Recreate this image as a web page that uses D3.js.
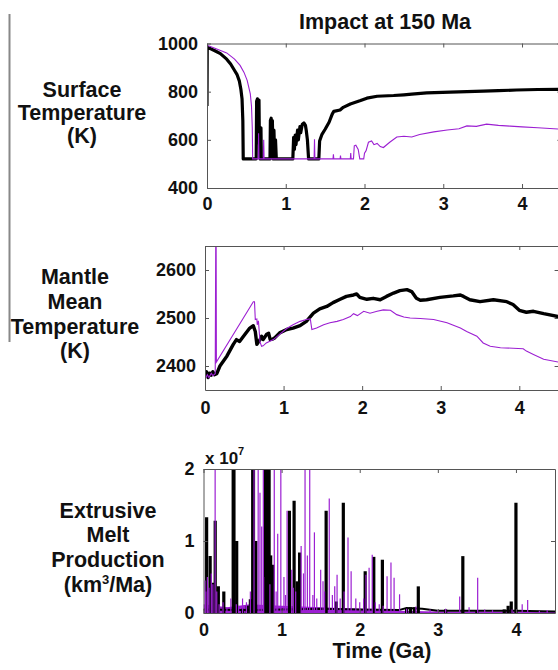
<!DOCTYPE html>
<html>
<head>
<meta charset="utf-8">
<script src="https://cdn.jsdelivr.net/npm/d3@7"></script>
<style>
  body { margin: 0; background: #fff; }
  svg { display: block; }
  text { font-family: "Liberation Sans", Arial, sans-serif; font-weight: bold; fill: #111; }
</style>
</head>
<body>
<div id="vis"></div>
<script>
// ---- data (time in Ga) ----
const xTicks = [0, 1, 2, 3, 4];
const surfTicks = [400, 600, 800, 1000];
const mantleTicks = [2400, 2500, 2600];
const meltTicks = [0, 1, 2];

// surface temperature (K)
const surfBlack = [[0,740],[0.003,985],[0.1,970],[0.17,958],[0.25,935],[0.3,915],[0.35,888],[0.38,872],[0.41,845],[0.43,810],[0.445,770],[0.455,680],[0.46,521],
  [0.625,521],[0.63,760],[0.64,770],[0.65,700],[0.66,765],[0.665,600],[0.675,521],[0.685,650],[0.69,521],
  [0.80,521],[0.805,680],[0.815,690],[0.82,600],[0.83,680],[0.84,521],[0.85,640],[0.86,521],[0.87,600],[0.88,521],
  [1.09,521],[1.10,610],[1.11,560],[1.12,620],[1.13,580],[1.15,640],[1.16,600],[1.18,655],[1.19,630],[1.21,665],[1.23,670],[1.25,660],[1.26,640],[1.275,600],[1.29,521],
  [1.42,521],[1.43,595],[1.46,623],[1.5,644],[1.55,673],[1.59,707],[1.61,718],[1.69,724],[1.73,735],[1.82,749],[1.95,763],[2.03,773],[2.16,781],[2.37,784],[2.5,787],[2.6,790],[2.79,795],[3.09,798],[3.3,800],[3.51,802],[3.7,804],[3.93,807],[4.2,809],[4.5,810]];
const surfPurple = [[0,993],[0.1,980],[0.25,961],[0.35,935],[0.42,909],[0.47,880],[0.51,847],[0.55,791],[0.565,740],[0.575,650],[0.58,521],
  [0.65,521],[0.655,627],[0.66,521],[0.715,521],[0.72,600],[0.725,521],[1.36,521],[1.365,602],[1.37,521],
  [1.6,521],[1.605,540],[1.61,521],[1.69,521],[1.695,535],[1.70,521],[1.82,521],[1.825,545],[1.83,521],
  [1.86,521],[1.87,575],[1.89,578],[1.92,560],[1.94,521],[1.99,521],[2.0,545],[2.02,555],[2.05,590],[2.09,595],[2.12,580],[2.16,585],[2.2,572],[2.24,568],[2.32,590],[2.41,612],[2.5,615],[2.6,612],[2.7,622],[2.88,633],[3.05,641],[3.2,646],[3.3,658],[3.42,656],[3.55,665],[3.7,660],[3.85,657],[4.0,654],[4.2,650],[4.5,644]];

// mantle mean temperature (K)
const mantleBlack = [[0,2379],[0.02,2388],[0.04,2376],[0.06,2385],[0.08,2381],[0.1,2388],[0.12,2382],[0.15,2384],[0.19,2400],[0.28,2421],[0.36,2445],[0.40,2455],[0.44,2451],[0.49,2462],[0.57,2479],[0.615,2484],[0.64,2472],[0.66,2445],[0.70,2455],[0.72,2462],[0.74,2455],[0.785,2466],[0.81,2468],[0.83,2455],[0.86,2456],[0.89,2459],[0.95,2469],[1.04,2476],[1.12,2479],[1.21,2484],[1.29,2493],[1.38,2510],[1.46,2519],[1.55,2524],[1.63,2532],[1.72,2539],[1.80,2545],[1.89,2548],[1.93,2550],[1.97,2543],[2.06,2539],[2.14,2541],[2.23,2538],[2.31,2545],[2.4,2552],[2.48,2557],[2.57,2559],[2.63,2555],[2.69,2541],[2.74,2537],[2.82,2538],[2.99,2543],[3.16,2546],[3.25,2548],[3.29,2545],[3.37,2538],[3.5,2534],[3.67,2538],[3.84,2534],[3.92,2528],[4.0,2516],[4.09,2512],[4.18,2514],[4.31,2509],[4.5,2503]];
const mantlePurple = [[0,2372],[0.03,2382],[0.05,2376],[0.08,2385],[0.1,2380],[0.13,2384],[0.14,2800],[0.145,2408],[0.615,2534],[0.63,2534],[0.64,2497],[0.66,2498],[0.665,2486],[0.68,2494],[0.70,2450],[0.72,2441],[0.74,2442],[0.78,2448],[0.87,2455],[0.95,2466],[1.04,2478],[1.12,2486],[1.21,2493],[1.29,2497],[1.34,2498],[1.36,2476],[1.42,2479],[1.51,2486],[1.59,2490],[1.68,2493],[1.76,2497],[1.85,2503],[1.89,2509],[1.94,2505],[2.02,2514],[2.10,2510],[2.19,2514],[2.27,2517],[2.36,2516],[2.44,2507],[2.53,2502],[2.61,2500],[2.74,2499],[2.91,2497],[3.08,2490],[3.25,2479],[3.33,2472],[3.46,2462],[3.54,2448],[3.63,2441],[3.76,2438],[3.92,2437],[4.05,2436],[4.09,2431],[4.18,2424],[4.31,2414],[4.5,2408]];

// extrusive melt production (x 1e7 km3/Ma): spikes [t, value] and baselines
const meltBlackSpikes = [[0.04,1.33],[0.085,0.79],[0.12,0.42],[0.15,1.28],[0.19,0.37],[0.26,0.30],[0.38,2],[0.39,2],[0.425,1.0],[0.5,0.06],[0.56,0.1],[0.6,0.19],[0.63,2],[0.64,2],[0.67,1.0],
  [0.79,2],[0.80,2],[0.81,2],[0.82,2],[0.83,2],[0.84,2],[0.86,0.8],[0.89,0.67],[1.1,1.42],[1.16,1.56],[1.2,0.44],[1.23,0.84],[1.57,1.42],[1.70,0.16],[1.79,1.53],
  [2.07,0.58],[2.18,0.78],[2.29,0.74],[2.6,0.07],[2.65,0.08],[2.7,0.08],[2.75,0.37],[3.1,0.05],[3.32,0.79],[3.5,0.04],[3.85,0.05],[3.9,0.1],[3.94,0.16],[4.0,1.53]];
const meltPurpleSpikes = [[0.02,0.45],[0.03,0.3],[0.05,0.5],[0.07,0.35],[0.1,0.55],[0.12,0.4],[0.149,2],[0.17,0.3],[0.2,0.12],[0.25,0.15],[0.3,0.08],[0.35,0.2],[0.42,0.12],[0.45,0.1],[0.5,0.2],[0.55,0.15],[0.6,0.3],
  [0.647,2],[0.70,2],[0.723,1.67],[0.745,1.2],[0.766,2],[0.77,0.5],[0.85,0.4],[0.906,2],[0.93,0.3],[0.95,1.1],[0.99,2],[1.03,0.5],[1.05,0.25],[1.07,1.42],[1.13,0.6],[1.15,0.35],[1.18,0.3],
  [1.25,0.93],[1.28,0.55],[1.30,2],[1.33,0.8],[1.36,2],[1.4,0.25],[1.42,1.12],[1.45,0.2],[1.5,0.6],[1.53,0.44],[1.55,0.3],[1.61,1.59],[1.65,0.25],[1.68,0.37],[1.71,0.53],[1.75,0.2],[1.8,0.3],
  [1.85,1.05],[1.89,0.58],[1.95,0.2],[2.0,0.15],[2.05,0.2],[2.08,0.53],[2.12,0.63],[2.16,0.81],[2.2,0.15],[2.25,0.12],[2.3,0.1],[2.35,0.51],[2.40,0.70],[2.44,0.49],[2.51,0.26],
  [2.6,0.06],[2.72,0.09],[2.9,0.05],[3.0,0.04],[3.1,0.06],[3.28,0.23],[3.4,0.08],[3.51,0.49],[3.6,0.05],[3.7,0.04],[3.95,0.05],[4.08,0.12],[4.15,0.18],[4.3,0.03],[4.4,0.04]];
const meltBlackBase = [[0,0.05],[0.5,0.04],[1,0.05],[1.5,0.06],[2,0.05],[2.5,0.04],[2.6,0.07],[2.8,0.06],[3,0.03],[3.5,0.03],[4,0.03],[4.5,0.02]];
const meltPurpleBase = [[0,0.12],[0.3,0.08],[0.6,0.12],[1,0.1],[1.5,0.08],[2,0.06],[2.5,0.03],[3,0.02],[4.5,0.02]];

// ---- layout ----
const WIDTH = 558, HEIGHT = 670;
const PURPLE = "#9c1fd2";
const FRAME_COLOR = "#555";

const svg = d3.select("#vis").append("svg")
  .attr("width", WIDTH).attr("height", HEIGHT)
  .style("background", "#fff");

svg.append("line")
  .attr("x1", 9.5).attr("x2", 9.5).attr("y1", 14).attr("y2", 342)
  .attr("stroke", "#888").attr("stroke-width", 2);

function makePanel(id, box, yDomain, yTicks, yFmt) {
  const x = d3.scaleLinear().domain([0, 4.5]).range([box.left, box.right]);
  const y = d3.scaleLinear().domain(yDomain).range([box.bottom, box.top]);

  svg.append("clipPath").attr("id", id)
    .append("rect")
    .attr("x", box.left).attr("y", box.top)
    .attr("width", box.right - box.left).attr("height", box.bottom - box.top);

  const plot = svg.append("g").attr("clip-path", `url(#${id})`);

  // axes with inward ticks on all sides
  const bottom = svg.append("g")
    .attr("transform", `translate(0,${box.bottom})`)
    .call(d3.axisBottom(x).tickValues(xTicks).tickSizeInner(-4).tickSizeOuter(0).tickPadding(box.xPad).tickFormat(d3.format("d")));
  const left = svg.append("g")
    .attr("transform", `translate(${box.left},0)`)
    .call(d3.axisLeft(y).tickValues(yTicks).tickSizeInner(-4).tickSizeOuter(0).tickPadding(9).tickFormat(yFmt));
  svg.append("g")
    .attr("transform", `translate(0,${box.top})`)
    .call(d3.axisTop(x).tickValues(xTicks).tickSizeInner(-4).tickSizeOuter(0).tickFormat(""));
  svg.append("g")
    .attr("transform", `translate(${box.right},0)`)
    .call(d3.axisRight(y).tickValues(yTicks).tickSizeInner(-4).tickSizeOuter(0).tickFormat(""));

  svg.selectAll(".domain").attr("stroke", FRAME_COLOR);
  svg.selectAll(".tick line").attr("stroke", FRAME_COLOR);
  [bottom, left].forEach(a => a.attr("font-size", 18).attr("font-family", null));
  svg.selectAll(".tick text").attr("fill", "#111");

  return { x, y, plot };
}

const line = (p) => d3.line().x(d => p.x(d[0])).y(d => p.y(d[1]));

// ---- panel 1: surface temperature ----
const p1 = makePanel("c1", { left: 207, right: 561.4, top: 43.5, bottom: 188, xPad: 9 },
  [400, 1000], surfTicks, d3.format("d"));
p1.plot.append("path").datum(surfBlack).attr("d", line(p1))
  .attr("fill", "none").attr("stroke", "#000").attr("stroke-width", 3.2).attr("stroke-linejoin", "round");
p1.plot.append("path").datum(surfPurple).attr("d", line(p1))
  .attr("fill", "none").attr("stroke", PURPLE).attr("stroke-width", 1.1);

// ---- panel 2: mantle mean temperature ----
const p2 = makePanel("c2", { left: 205, right: 558.6, top: 246, bottom: 390, xPad: 11 },
  [2350, 2650], mantleTicks, d3.format("d"));
p2.plot.append("path").datum(mantleBlack).attr("d", line(p2))
  .attr("fill", "none").attr("stroke", "#000").attr("stroke-width", 3.4).attr("stroke-linejoin", "round");
p2.plot.append("path").datum(mantlePurple).attr("d", line(p2))
  .attr("fill", "none").attr("stroke", PURPLE).attr("stroke-width", 1.1);

// ---- panel 3: extrusive melt production ----
const p3 = makePanel("c3", { left: 203.5, right: 555, top: 469, bottom: 613, xPad: 10 },
  [0, 2], meltTicks, d3.format("d"));
p3.plot.append("path").datum(meltPurpleBase)
  .attr("d", d3.area().x(d => p3.x(d[0])).y0(p3.y(0)).y1(d => p3.y(d[1])))
  .attr("fill", PURPLE);
p3.plot.append("path").datum(meltBlackBase).attr("d", line(p3))
  .attr("fill", "none").attr("stroke", "#000").attr("stroke-width", 2);
p3.plot.selectAll(".bspike").data(meltBlackSpikes).join("line")
  .attr("class", "bspike")
  .attr("x1", d => p3.x(d[0])).attr("x2", d => p3.x(d[0]))
  .attr("y1", p3.y(0)).attr("y2", d => p3.y(d[1]))
  .attr("stroke", "#000").attr("stroke-width", 3.2);
p3.plot.selectAll(".pspike").data(meltPurpleSpikes).join("line")
  .attr("class", "pspike")
  .attr("x1", d => p3.x(d[0])).attr("x2", d => p3.x(d[0]))
  .attr("y1", p3.y(0)).attr("y2", d => p3.y(d[1]))
  .attr("stroke", PURPLE).attr("stroke-width", 1.2);

// ---- text ----
svg.append("text").attr("x", 385).attr("y", 29).attr("text-anchor", "middle")
  .attr("font-size", 21.5).text("Impact at 150 Ma");

function stackLabel(cx, baselines, lines) {
  lines.forEach((t, i) => {
    svg.append("text").attr("x", cx).attr("y", baselines[i]).attr("text-anchor", "middle")
      .attr("font-size", 21.5).text(t);
  });
}
stackLabel(82, [97, 120, 143], ["Surface", "Temperature", "(K)"]);
stackLabel(75, [284, 309, 334, 358], ["Mantle", "Mean", "Temperature", "(K)"]);
stackLabel(108, [518, 542, 567], ["Extrusive", "Melt", "Production"]);
const unit = svg.append("text").attr("x", 108).attr("y", 592).attr("text-anchor", "middle").attr("font-size", 21.5);
unit.append("tspan").text("(km");
unit.append("tspan").attr("font-size", 13).attr("dy", -8).text("3");
unit.append("tspan").attr("dy", 8).text("/Ma)");

const mult = svg.append("text").attr("x", 205).attr("y", 464).attr("font-size", 17);
mult.append("tspan").text("x 10");
mult.append("tspan").attr("font-size", 11).attr("dy", -9).text("7");

svg.append("text").attr("x", 382).attr("y", 658).attr("text-anchor", "middle")
  .attr("font-size", 21.5).text("Time (Ga)");
</script>
</body>
</html>
